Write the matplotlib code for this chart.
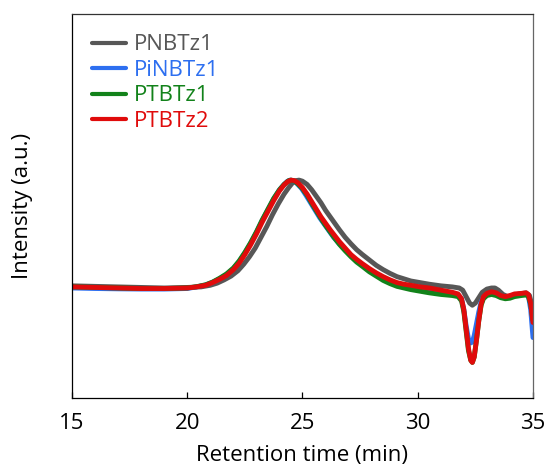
import matplotlib
matplotlib.use("Agg")
import matplotlib.pyplot as plt

plt.rcParams['font.family'] = ['Open Sans', 'DejaVu Sans']

# Normalised GPC traces (retention time in min, intensity normalised to peak)
t_pnbtz1 = [15.0, 16.0, 17.0, 18.0, 19.0, 20.0, 20.6, 21.0, 21.3, 21.6, 21.9, 22.2,
            22.45, 22.7, 22.95, 23.2, 23.45, 23.7, 23.95, 24.2, 24.4, 24.55, 24.7,
            24.85, 25.0, 25.2, 25.4, 25.6, 25.8, 26.0, 26.2, 26.4, 26.6, 26.85,
            27.1, 27.35, 27.6, 27.9, 28.2, 28.5, 28.8, 29.1, 29.4, 29.7, 30.1,
            30.5, 31.0, 31.5, 31.8, 31.95, 32.1, 32.25, 32.37, 32.5, 32.65, 32.8,
            33.0, 33.2, 33.35, 33.5, 33.7, 33.9, 34.1, 34.4, 34.7, 34.85, 35.0]
i_pnbtz1 = [0.02, 0.015, 0.01, 0.005, 0.0, 0.005, 0.01, 0.025, 0.045, 0.075, 0.11, 0.16,
            0.22, 0.29, 0.37, 0.47, 0.57, 0.68, 0.78, 0.87, 0.93, 0.97, 0.995,
            1.0, 0.99, 0.96, 0.91, 0.85, 0.79, 0.72, 0.66, 0.60, 0.54, 0.47,
            0.41, 0.355, 0.31, 0.26, 0.21, 0.17, 0.135, 0.105, 0.085, 0.065, 0.05,
            0.035, 0.02, 0.01, 0.0, -0.02, -0.08, -0.14, -0.16, -0.14, -0.09, -0.04,
            -0.01, 0.0, 0.0, -0.02, -0.06, -0.08, -0.07, -0.055, -0.045, -0.07, -0.2]

t_pinbtz1 = [15.0, 16.0, 17.0, 18.0, 19.0, 20.0, 20.4, 20.8, 21.1, 21.4, 21.7, 22.0,
             22.25, 22.5, 22.75, 23.0, 23.25, 23.5, 23.75, 24.0, 24.2, 24.35, 24.46,
             24.6, 24.75, 24.95, 25.15, 25.35, 25.55, 25.75, 25.95, 26.15, 26.35,
             26.6, 26.85, 27.1, 27.35, 27.6, 27.9, 28.2, 28.5, 28.8, 29.1, 29.4,
             29.7, 30.1, 30.5, 31.0, 31.5, 31.75, 31.9, 32.0, 32.1, 32.2, 32.3,
             32.37, 32.45, 32.55, 32.65, 32.75, 32.85, 33.0, 33.2, 33.4, 33.6, 33.8,
             34.0, 34.2, 34.5, 34.7, 34.8, 34.9, 35.0]
i_pinbtz1 = [0.0, -0.005, -0.008, -0.01, -0.01, -0.005, 0.01, 0.028, 0.053, 0.085, 0.125, 0.18,
             0.245, 0.325, 0.415, 0.515, 0.625, 0.725, 0.825, 0.91, 0.96, 0.99, 1.0,
             0.995, 0.97, 0.925, 0.86, 0.79, 0.72, 0.65, 0.59, 0.53, 0.47,
             0.41, 0.355, 0.30, 0.25, 0.21, 0.165, 0.125, 0.09, 0.06, 0.035, 0.02,
             0.01, -0.005, -0.015, -0.035, -0.05, -0.065, -0.10, -0.20, -0.35, -0.47, -0.51,
             -0.50, -0.44, -0.33, -0.22, -0.13, -0.085, -0.06, -0.05, -0.06, -0.08, -0.09,
             -0.08, -0.065, -0.06, -0.055, -0.07, -0.2, -0.46]

t_ptbtz1 = [15.0, 16.0, 17.0, 18.0, 19.0, 20.0, 20.4, 20.8, 21.1, 21.4, 21.7, 22.0,
            22.25, 22.5, 22.75, 23.0, 23.25, 23.5, 23.75, 24.0, 24.2, 24.4, 24.5,
            24.65, 24.8, 25.0, 25.2, 25.4, 25.6, 25.8, 26.0, 26.2, 26.4, 26.6,
            26.85, 27.1, 27.35, 27.6, 27.9, 28.2, 28.5, 28.8, 29.1, 29.4, 29.7,
            30.1, 30.5, 31.0, 31.5, 31.75, 31.9, 32.0, 32.1, 32.2, 32.3, 32.37,
            32.45, 32.55, 32.65, 32.75, 32.85, 33.0, 33.2, 33.4, 33.6, 33.8, 34.0,
            34.2, 34.5, 34.7, 34.8, 34.9, 35.0]
i_ptbtz1 = [0.01, 0.005, 0.0, -0.005, -0.005, 0.0, 0.012, 0.03, 0.055, 0.09, 0.13, 0.185,
            0.25, 0.33, 0.42, 0.52, 0.63, 0.73, 0.83, 0.91, 0.96, 0.995, 1.0,
            0.99, 0.965, 0.92, 0.86, 0.785, 0.715, 0.645, 0.58, 0.52, 0.46, 0.405,
            0.345, 0.29, 0.24, 0.20, 0.15, 0.11, 0.07, 0.04, 0.015, 0.0, -0.015,
            -0.03, -0.045, -0.06, -0.07, -0.08, -0.12, -0.22, -0.40, -0.58, -0.67, -0.69,
            -0.64, -0.48, -0.30, -0.16, -0.10, -0.07, -0.06, -0.07, -0.09, -0.10, -0.095,
            -0.08, -0.07, -0.065, -0.08, -0.15, -0.30]

t_ptbtz2 = [15.0, 16.0, 17.0, 18.0, 19.0, 20.0, 20.4, 20.8, 21.1, 21.4, 21.7, 22.0,
            22.25, 22.5, 22.75, 23.0, 23.25, 23.5, 23.75, 24.0, 24.2, 24.35, 24.5,
            24.65, 24.8, 25.0, 25.2, 25.4, 25.6, 25.8, 26.0, 26.2, 26.4, 26.6,
            26.85, 27.1, 27.35, 27.6, 27.9, 28.2, 28.5, 28.8, 29.1, 29.4, 29.7,
            30.1, 30.5, 31.0, 31.5, 31.75, 31.9, 32.0, 32.1, 32.2, 32.3, 32.37,
            32.45, 32.55, 32.65, 32.75, 32.85, 33.0, 33.2, 33.4, 33.6, 33.8, 34.0,
            34.2, 34.5, 34.7, 34.8, 34.9, 35.0]
i_ptbtz2 = [0.01, 0.005, 0.0, -0.005, -0.005, 0.0, 0.01, 0.025, 0.05, 0.08, 0.115, 0.17,
            0.23, 0.31, 0.40, 0.50, 0.61, 0.71, 0.81, 0.90, 0.955, 0.985, 1.0,
            0.995, 0.975, 0.93, 0.87, 0.80, 0.73, 0.66, 0.60, 0.54, 0.485, 0.43,
            0.37, 0.31, 0.265, 0.225, 0.18, 0.14, 0.105, 0.075, 0.05, 0.035, 0.025,
            0.01, 0.0, -0.02, -0.04, -0.055, -0.10, -0.20, -0.38, -0.56, -0.67, -0.69,
            -0.64, -0.48, -0.30, -0.15, -0.08, -0.05, -0.035, -0.045, -0.07, -0.08, -0.07,
            -0.055, -0.05, -0.045, -0.06, -0.14, -0.32]

series = [
    ("PNBTz1", t_pnbtz1, i_pnbtz1, "#575757"),
    ("PiNBTz1", t_pinbtz1, i_pinbtz1, "#2d6ff0"),
    ("PTBTz1", t_ptbtz1, i_ptbtz1, "#12821a"),
    ("PTBTz2", t_ptbtz2, i_ptbtz2, "#e00b0b"),
]

fig = plt.figure(figsize=(5.48, 4.66), dpi=100)
ax = fig.add_axes([0.1314, 0.1459, 0.8412, 0.8241])

for name, t, y, c in series:
    ax.plot(t, y, color=c, lw=3.5, label=name, solid_capstyle='round',
            solid_joinstyle='round')

ax.set_xlim(15, 35)
ax.set_ylim(-1.02, 2.54)
ax.set_xticks([15, 20, 25, 30, 35])
ax.set_yticks([])
ax.tick_params(axis='x', direction='in', length=4, width=0.9, labelsize=16, pad=11)
for s in ax.spines.values():
    s.set_linewidth(0.9)
ax.spines['top'].set_color('#333333')
ax.spines['right'].set_color('#666666')

ax.set_xlabel("Retention time (min)", fontsize=16, labelpad=8)
ax.set_ylabel("Intensity (a.u.)", fontsize=16, labelpad=28)

leg = ax.legend(loc='upper left', bbox_to_anchor=(0.025, 0.97), frameon=False,
                fontsize=16, handlelength=1.5, handletextpad=0.36,
                labelspacing=0.2, borderaxespad=0.0)
for line in leg.get_lines():
    line.set_linewidth(3.0)
for txt, (_, _, _, c) in zip(leg.get_texts(), series):
    txt.set_color(c)

fig.savefig("out.png", dpi=100)
